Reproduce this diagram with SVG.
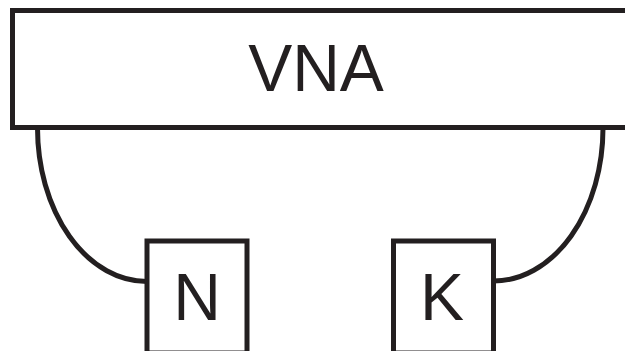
<svg xmlns="http://www.w3.org/2000/svg" width="625" height="351" viewBox="0 0 625 351">
<style>
.box{fill:#fff;stroke:#231f20;stroke-width:5}
.wire{fill:none;stroke:#231f20;stroke-width:5}
.lbl{font-family:"Liberation Sans",Arial,sans-serif;font-size:66px;fill:#231f20;text-anchor:middle}
</style>
<rect width="625" height="351" fill="#fff"/>
<g id="connectors">
<path class="wire" d="M37.5,128 A109.5,153.5 0 0 0 147,281.5"/>
<path class="wire" d="M603,128 A109.5,153 0 0 1 493.5,281"/>
</g>
<g id="vna">
<rect class="box" x="12.5" y="10.5" width="615" height="117"/>
<text class="lbl" x="316" y="91">VNA</text>
</g>
<g id="n">
<rect class="box" x="147" y="241" width="100" height="112"/>
<text class="lbl" x="197" y="320">N</text>
</g>
<g id="k">
<rect class="box" x="393.5" y="241" width="100" height="112"/>
<text class="lbl" x="442" y="320">K</text>
</g>
</svg>
